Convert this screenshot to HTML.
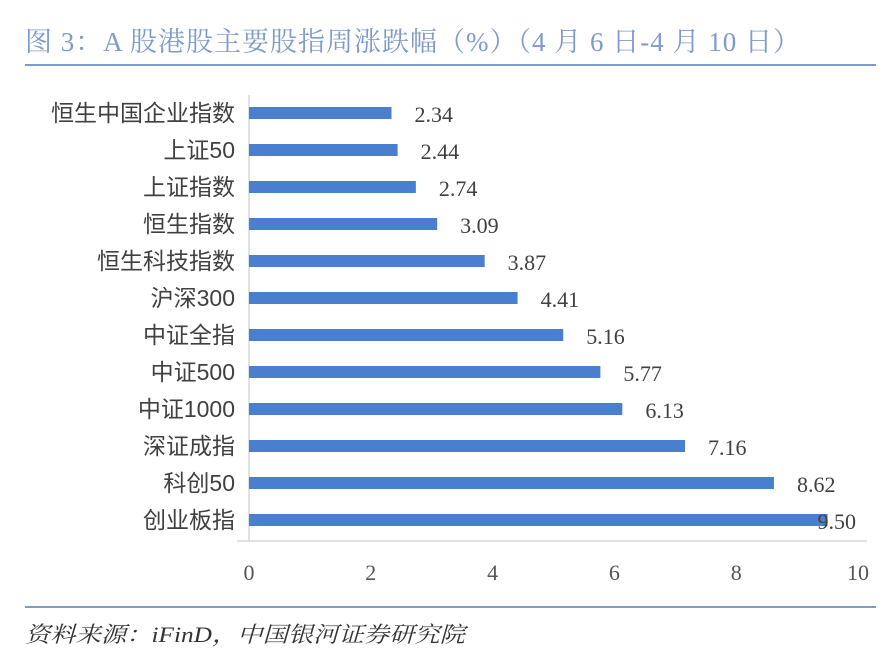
<!DOCTYPE html>
<html><head><meta charset="utf-8"><style>
body{margin:0;background:#fff;width:888px;height:657px;overflow:hidden;}
svg{display:block}
</style></head><body>
<svg width="888" height="657">
<text x="25" y="51" textLength="775" lengthAdjust="spacing" font-family="'Liberation Serif','Noto Serif CJK SC',serif" font-size="27" fill="#7f9bc9">图 3：A 股港股主要股指周涨跌幅（%）（4 月 6 日-4 月 10 日）</text>
<line x1="25" y1="65" x2="876" y2="65" stroke="#7f9bc9" stroke-width="2"/>
<line x1="249" y1="95" x2="249" y2="541" stroke="#d9d9d9" stroke-width="1.5"/>
<line x1="237" y1="541" x2="867" y2="541" stroke="#d9d9d9" stroke-width="1.5"/>
<g id="bars"></g>
<line x1="25" y1="607" x2="876" y2="607" stroke="#7f9bc9" stroke-width="2"/>
<text x="25" y="642" textLength="440" lengthAdjust="spacingAndGlyphs" font-family="'Liberation Serif','Noto Serif CJK SC',serif" font-style="italic" font-size="22" fill="#333">资料来源：iFinD，中国银河证券研究院</text>
</svg>
<script>
const categories=["恒生中国企业指数","上证50","上证指数","恒生指数","恒生科技指数","沪深300","中证全指","中证500","中证1000","深证成指","科创50","创业板指"];
const values=[2.34,2.44,2.74,3.09,3.87,4.41,5.16,5.77,6.13,7.16,8.62,9.50];
const ticks=[0,2,4,6,8,10];
const NS="http://www.w3.org/2000/svg";
const g=document.getElementById('bars');
const x=v=>249+v*60.9;
const y=i=>113+i*37;
function mk(t,a){const e=document.createElementNS(NS,t);for(const k in a)e.setAttribute(k,a[k]);g.appendChild(e);return e;}
const sf="'Liberation Serif','Noto Serif CJK SC',serif";
const cf="'Liberation Sans','Noto Sans CJK SC',sans-serif";
function dx(i){return values[i]>9.2?-10:23;}
categories.forEach((c,i)=>{
 const r=mk('rect',{x:x(0),y:y(i)-6,width:x(values[i])-x(0),height:12,fill:'#4a7fcf'});
 
 
 const l=mk('text',{x:235,y:y(i)+8,'text-anchor':'end','font-family':cf,'font-size':23,fill:'#404040'});
 l.textContent=c;
 
 
 const vl=mk('text',{x:x(values[i])+dx(i),y:y(i)+9,'font-family':sf,'font-size':22,fill:'#404040'});
 vl.textContent=values[i].toFixed(2);
 
 
});
ticks.forEach(t=>{
 const e=mk('text',{x:x(t),y:580,'text-anchor':'middle','font-family':sf,'font-size':22,fill:'#555'});
 e.textContent=t;
 
 
});
</script>
</body></html>
